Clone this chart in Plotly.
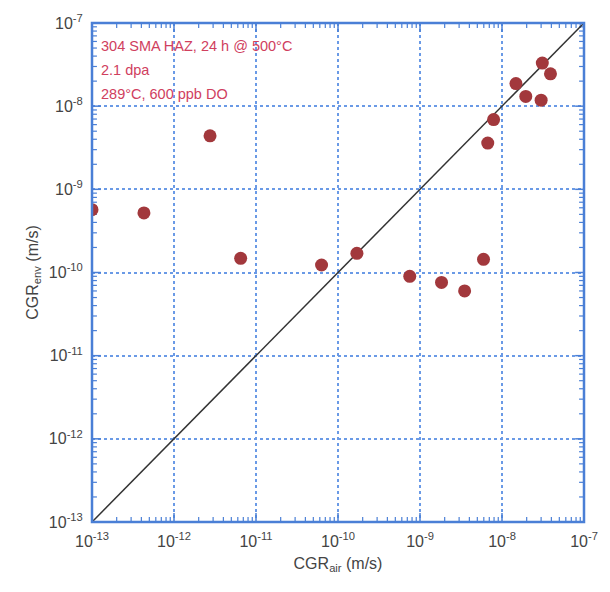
import plotly.graph_objects as go

# Data
cgr_air = [1.0e-13, 4.3e-13, 2.75e-12, 6.5e-12, 6.3e-11, 1.7e-10, 7.5e-10, 1.83e-9,
           3.5e-9, 5.95e-9, 6.7e-9, 7.9e-9, 1.48e-8, 1.95e-8, 3.0e-8, 3.1e-8, 3.9e-8]
cgr_env = [5.7e-10, 5.2e-10, 4.4e-9, 1.48e-10, 1.23e-10, 1.7e-10, 9.0e-11, 7.6e-11,
           6.0e-11, 1.44e-10, 3.6e-9, 6.9e-9, 1.87e-8, 1.31e-8, 1.18e-8, 3.3e-8, 2.45e-8]
diag = [1e-13, 1e-7]
decades = [1e-13, 1e-12, 1e-11, 1e-10, 1e-9, 1e-8, 1e-7]
decade_labels = ["10<sup>-13</sup>", "10<sup>-12</sup>", "10<sup>-11</sup>", "10<sup>-10</sup>",
                 "10<sup>-9</sup>", "10<sup>-8</sup>", "10<sup>-7</sup>"]
minor_vals = [m * d for d in decades[:-1] for m in range(2, 10)]
notes = ["304 SMA HAZ, 24 h @ 500°C", "2.1 dpa", "289°C, 600 ppb DO"]

blue = "#4a7fd6"
gridblue = "#6a9ae6"
textgray = "#444444"
font_fam = "Liberation Sans, Arial"
lo, hi = decades[0], decades[-1]

W, H = 610, 592
ML, MR, MT, MB = 92, 19, 21, 70
px_per_dec_x = (W - ML - MR) / 6
px_per_dec_y = (H - MT - MB) / 6


def tick_segments(vals, length_px):
    """Build inside tick segments (as data-space polylines) on all four sides."""
    fx = 10 ** (length_px / px_per_dec_y)   # vertical extent for x-axis ticks
    fy = 10 ** (length_px / px_per_dec_x)   # horizontal extent for y-axis ticks
    xs, ys = [], []
    for v in vals:
        xs += [v, v, None, v, v, None]
        ys += [lo, lo * fx, None, hi, hi / fx, None]
        xs += [lo, lo * fy, None, hi, hi / fy, None]
        ys += [v, v, None, v, v, None]
    return xs, ys


fig = go.Figure()
for vals, length, width in ((minor_vals, 5, 1.2), (decades, 9, 1.5)):
    tx, ty = tick_segments(vals, length)
    fig.add_trace(go.Scatter(x=tx, y=ty, mode="lines", connectgaps=False,
                             line=dict(color=blue, width=width), hoverinfo="skip"))

fig.add_trace(go.Scatter(x=diag, y=diag, mode="lines",
                         line=dict(color="#333333", width=1.5), hoverinfo="skip"))
fig.add_trace(go.Scatter(x=cgr_air, y=cgr_env, mode="markers",
                         marker=dict(color="#a2383c", size=13, line=dict(width=0))))

axis_common = dict(
    type="log", range=[-13, -7], tickmode="array", tickvals=decades, ticktext=decade_labels,
    showline=False, ticks="outside", ticklen=5, tickcolor="rgba(0,0,0,0)",
    showgrid=True, gridcolor=gridblue, gridwidth=1.5, griddash="dot",
    tickfont=dict(family=font_fam, size=16, color=textgray),
    zeroline=False,
)

fig.update_layout(
    width=W, height=H,
    margin=dict(l=ML, r=MR, t=MT, b=MB),
    paper_bgcolor="white", plot_bgcolor="white",
    showlegend=False,
    xaxis=dict(**axis_common,
               title=dict(text="CGR<sub>air</sub> (m/s)", standoff=8,
                          font=dict(family=font_fam, size=16, color=textgray))),
    yaxis=dict(**axis_common,
               title=dict(text="CGR<sub>env</sub> (m/s)", standoff=6,
                          font=dict(family=font_fam, size=16, color=textgray))),
)

# frame
fig.add_shape(type="rect", xref="paper", yref="paper", x0=0, y0=0, x1=1, y1=1,
              line=dict(color=blue, width=2.5), layer="above")

for i, t in enumerate(notes):
    fig.add_annotation(x=0.015, y=0.953 - i * 0.048, xref="paper", yref="paper",
                       text=t, showarrow=False, xanchor="left", yanchor="middle",
                       font=dict(family=font_fam, size=14.5, color="#d0405e"))

fig.write_html("out.html")
